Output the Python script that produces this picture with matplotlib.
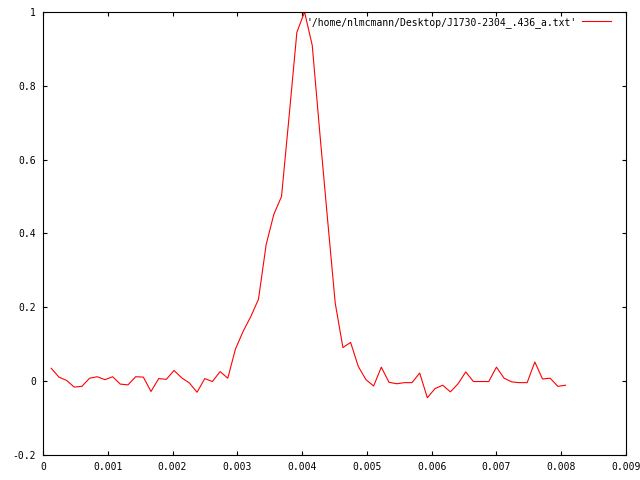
import numpy as np
from matplotlib import pyplot as plt

# profile bins: first bin time and bin width (seconds)
t_first = 0.000127
t_step = 0.0001185

amplitude = [0.035, 0.011, 0.002, -0.016, -0.014, 0.008, 0.012, 0.004, 0.012, -0.008,
             -0.010, 0.012, 0.011, -0.028, 0.007, 0.005, 0.029, 0.009, -0.005, -0.030,
             0.007, -0.001, 0.026, 0.008, 0.087, 0.135, 0.175, 0.222, 0.370, 0.452,
             0.500, 0.720, 0.945, 1.000, 0.910, 0.670, 0.438, 0.211, 0.091, 0.105,
             0.040, 0.004, -0.013, 0.038, -0.003, -0.007, -0.004, -0.004, 0.022, -0.045,
             -0.020, -0.011, -0.029, -0.007, 0.025, -0.001, -0.001, -0.001, 0.038, 0.008,
             -0.002, -0.004, -0.004, 0.052, 0.006, 0.008, -0.014, -0.011]

time = t_first + t_step * np.arange(len(amplitude))

label = "'/home/nlmcmann/Desktop/J1730-2304_.436_a.txt'"
xticks = [0, 0.001, 0.002, 0.003, 0.004, 0.005, 0.006, 0.007, 0.008, 0.009]
yticks = [-0.2, 0, 0.2, 0.4, 0.6, 0.8, 1]

plt.rcParams['font.family'] = 'DejaVu Sans Mono'
plt.rcParams['font.size'] = 7

fig = plt.figure(figsize=(6.4, 4.8), dpi=100)
ax = fig.add_axes([43 / 640, 25 / 480, 583 / 640, 443 / 480])
ax.plot(time, amplitude, color='red', linewidth=0.8, label=label)

ax.set_xlim(0, 0.009)
ax.set_ylim(-0.2, 1)
ax.set_xticks(xticks)
ax.set_xticklabels(['0', '0.001', '0.002', '0.003', '0.004', '0.005', '0.006', '0.007', '0.008', '0.009'])
ax.set_yticks(yticks)
ax.set_yticklabels(['-0.2', '0', '0.2', '0.4', '0.6', '0.8', '1'])
ax.tick_params(direction='in', length=3, width=0.8, top=True, right=True, pad=5)
for s in ax.spines.values():
    s.set_linewidth(0.8)

ax.legend(loc='upper right', bbox_to_anchor=(0.981, 0.998), frameon=False, markerfirst=False,
          handlelength=3.0, handletextpad=0.5, borderaxespad=0, fontsize=7)

fig.savefig('out.png', dpi=100)
